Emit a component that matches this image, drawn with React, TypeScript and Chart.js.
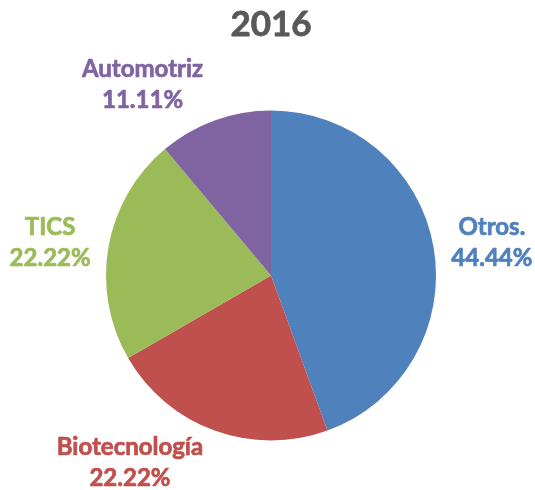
import React, { useEffect, useRef } from "react";
import { Chart, registerables } from "chart.js";

Chart.register(...registerables);

const categories = ["Otros.", "Biotecnología", "TICS", "Automotriz"];
const values = [44.44, 22.22, 22.22, 11.11];
const percentLabels = ["44.44%", "22.22%", "22.22%", "11.11%"];
const colors = ["#4F81BD", "#C0504D", "#9BBB59", "#8064A2"];
const titleText = "2016";

const FONT = "Lato, 'Open Sans', sans-serif";
const TITLE_SIZE = 35;
const TITLE_PAD_TOP = 4;

const outsideLabels = {
  id: "outsideLabels",
  afterDatasetsDraw(chart: any) {
    const ctx = chart.ctx;
    const meta = chart.getDatasetMeta(0);
    const W = chart.width;
    const H = chart.height;
    ctx.save();
    ctx.font = `bold 24px ${FONT}`;
    ctx.textAlign = "center";
    ctx.textBaseline = "middle";
    ctx.lineWidth = 0.7;
    ctx.lineJoin = "round";
    const lineH = 31;
    meta.data.forEach((arc: any, i: number) => {
      const p = arc.getProps(["x", "y", "startAngle", "endAngle", "outerRadius"], true);
      const mid = (p.startAngle + p.endAngle) / 2;
      const cos = Math.cos(mid);
      const sin = Math.sin(mid);
      const d = p.outerRadius + 18;
      const ax = p.x + cos * d;
      const ay = p.y + sin * d;
      const lines = [categories[i], percentLabels[i]];
      const w = Math.max(...lines.map((l) => ctx.measureText(l).width));
      const h = lineH * lines.length;
      const clamp = (v: number) => Math.max(-1, Math.min(1, v));
      let cx = ax + (w / 2 + 8 * (1 - Math.abs(cos))) * clamp(cos * 3);
      let cy = ay + 3 + (h / 2) * sin * 0.75;
      cx = Math.max(w / 2 + 2, Math.min(W - w / 2 - 2, cx));
      cy = Math.max(h / 2, Math.min(H - h / 2 + 4, cy));
      ctx.fillStyle = colors[i];
      ctx.strokeStyle = colors[i];
      lines.forEach((l, k) => {
        const y = cy - h / 2 + lineH / 2 + k * lineH;
        ctx.fillText(l, cx, y);
        ctx.strokeText(l, cx, y);
      });
    });
    // thicken title slightly
    const tb = chart.titleBlock;
    if (tb) {
      ctx.font = `bold ${TITLE_SIZE}px ${FONT}`;
      ctx.strokeStyle = "#595959";
      ctx.lineWidth = 0.8;
      const ty = tb.top + TITLE_PAD_TOP + (TITLE_SIZE * 1.2) / 2;
      ctx.strokeText(titleText, tb.left + tb.width / 2, ty);
    }
    ctx.restore();
  },
};

export default function App() {
  const ref = useRef<HTMLCanvasElement | null>(null);
  useEffect(() => {
    if (!ref.current) return;
    const chart = new Chart(ref.current, {
      type: "pie",
      data: {
        labels: categories,
        datasets: [
          {
            data: values,
            backgroundColor: colors,
            borderWidth: 0,
          },
        ],
      },
      options: {
        animation: false,
        responsive: false,
        maintainAspectRatio: false,
        layout: { padding: { left: 106, right: 99, top: 0, bottom: 49 } },
        plugins: {
          legend: { display: false },
          tooltip: { enabled: false },
          title: {
            display: true,
            text: titleText,
            color: "#595959",
            font: { family: FONT, size: TITLE_SIZE, weight: "bold" },
            padding: { top: TITLE_PAD_TOP, bottom: 64 },
          },
        },
      },
      plugins: [outsideLabels],
    });
    return () => chart.destroy();
  }, []);
  return (
    <div style={{ position: "fixed", left: 0, top: 0, width: 535, height: 490, background: "#fff" }}>
      <canvas ref={ref} width={535} height={490} style={{ width: 535, height: 490 }} />
    </div>
  );
}
